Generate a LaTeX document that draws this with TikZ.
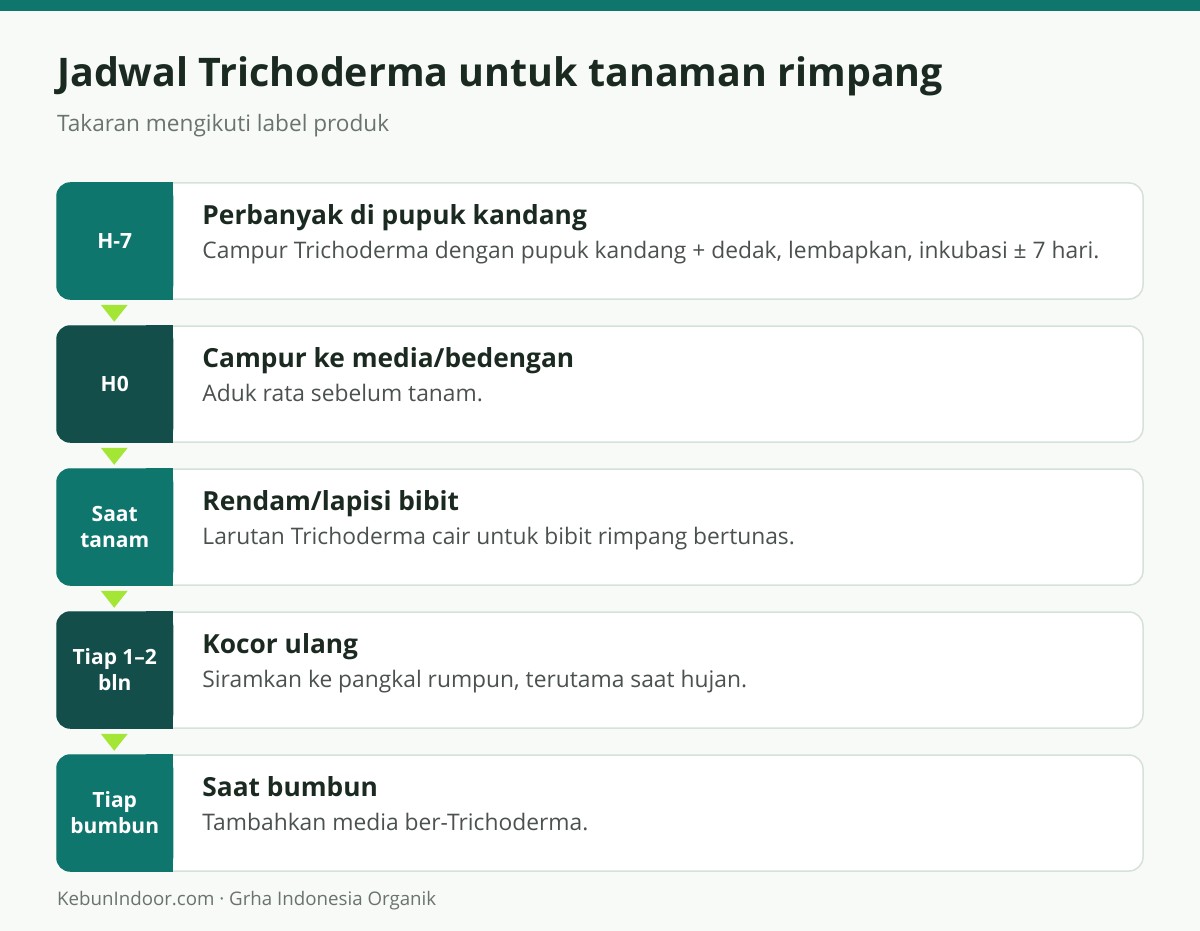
\documentclass[tikz,border=0pt]{standalone}
\usepackage{fontspec}
\setmainfont{Open Sans}
\usetikzlibrary{calc, positioning}

\definecolor{pagebg}{HTML}{F7FAF6}
\definecolor{tealA}{HTML}{0F766E}
\definecolor{tealB}{HTML}{134E4A}
\definecolor{limeA}{HTML}{A3E635}
\definecolor{cardline}{HTML}{D5E2DA}
\definecolor{inkdark}{HTML}{1B2A21}
\definecolor{inkgray}{HTML}{4B524E}
\definecolor{inksoft}{HTML}{6B736E}

\tikzset{
	card/.style={draw=cardline, line width=1.5pt, fill=white, rounded corners=14pt,
		minimum width=1086pt, minimum height=116pt, inner sep=0pt},
	badgetext/.style={text=white, font=\fontsize{21}{26}\selectfont\bfseries, align=center},
	steptitle/.style={anchor=base west, text=inkdark, font=\fontsize{26.3}{30}\selectfont\bfseries, inner sep=0pt},
	stepdesc/.style={anchor=base west, text=inkgray, font=\fontsize{22.8}{26}\selectfont, inner sep=0pt},
	marker/.style={fill=limeA}
}

\begin{document}
\begin{tikzpicture}[x=1pt, y=-1pt]
	\fill[pagebg] (0,0) rectangle (1200,931);
	\useasboundingbox (0,0) rectangle (1200,931);
	\fill[tealA] (0,0) rectangle (1200,11);

	% heading
	\node[anchor=base west, inner sep=0pt, text=inkdark, font=\fontsize{39.4}{42}\selectfont\bfseries] (title) at (57,87) {Jadwal Trichoderma untuk tanaman rimpang};
	\node[anchor=base west, inner sep=0pt, text=inksoft, font=\fontsize{22.6}{26}\selectfont] (subtitle) at (57,132) {Takaran mengikuti label produk};

	% cards
	\node[card] (c1) at (600,241) {};
	\node[card] (c2) at (600,384) {};
	\node[card] (c3) at (600,527) {};
	\node[card] (c4) at (600,670) {};
	\node[card] (c5) at (600,813) {};

	% badges
	\fill[tealA, rounded corners=14pt] (c1.north west) rectangle ($(c1.south west)+(117,0)$);
	\fill[tealA] ($(c1.north west)+(90,0)$) rectangle ($(c1.south west)+(117,0)$);
	\fill[tealB, rounded corners=14pt] (c2.north west) rectangle ($(c2.south west)+(117,0)$);
	\fill[tealB] ($(c2.north west)+(90,0)$) rectangle ($(c2.south west)+(117,0)$);
	\fill[tealA, rounded corners=14pt] (c3.north west) rectangle ($(c3.south west)+(117,0)$);
	\fill[tealA] ($(c3.north west)+(90,0)$) rectangle ($(c3.south west)+(117,0)$);
	\fill[tealB, rounded corners=14pt] (c4.north west) rectangle ($(c4.south west)+(117,0)$);
	\fill[tealB] ($(c4.north west)+(90,0)$) rectangle ($(c4.south west)+(117,0)$);
	\fill[tealA, rounded corners=14pt] (c5.north west) rectangle ($(c5.south west)+(117,0)$);
	\fill[tealA] ($(c5.north west)+(90,0)$) rectangle ($(c5.south west)+(117,0)$);

	\node[badgetext] (b1) at ($(c1.west)+(58.5,0)$) {H-7};
	\node[badgetext] (b2) at ($(c2.west)+(58.5,0)$) {H0};
	\node[badgetext] (b3) at ($(c3.west)+(58.5,0)$) {Saat\\tanam};
	\node[badgetext] (b4) at ($(c4.west)+(58.5,0)$) {Tiap 1–2\\bln};
	\node[badgetext] (b5) at ($(c5.west)+(58.5,0)$) {Tiap\\bumbun};

	% step texts
	\node[steptitle] (t1) at ($(c1.north west)+(146,42)$) {Perbanyak di pupuk kandang};
	\node[stepdesc] (d1) at ($(c1.north west)+(146,76)$) {Campur Trichoderma dengan pupuk kandang + dedak, lembapkan, inkubasi ± 7 hari.};
	\node[steptitle] (t2) at ($(c2.north west)+(146,42)$) {Campur ke media/bedengan};
	\node[stepdesc] (d2) at ($(c2.north west)+(146,76)$) {Aduk rata sebelum tanam.};
	\node[steptitle] (t3) at ($(c3.north west)+(146,42)$) {Rendam/lapisi bibit};
	\node[stepdesc] (d3) at ($(c3.north west)+(146,76)$) {Larutan Trichoderma cair untuk bibit rimpang bertunas.};
	\node[steptitle] (t4) at ($(c4.north west)+(146,42)$) {Kocor ulang};
	\node[stepdesc] (d4) at ($(c4.north west)+(146,76)$) {Siramkan ke pangkal rumpun, terutama saat hujan.};
	\node[steptitle] (t5) at ($(c5.north west)+(146,42)$) {Saat bumbun};
	\node[stepdesc] (d5) at ($(c5.north west)+(146,76)$) {Tambahkan media ber-Trichoderma.};

	% markers between cards
	\fill[marker] ($(c1.south west)+(44.5,5)$) -- ++(27,0) -- ++(-13.5,17) -- cycle;
	\fill[marker] ($(c2.south west)+(44.5,5)$) -- ++(27,0) -- ++(-13.5,17) -- cycle;
	\fill[marker] ($(c3.south west)+(44.5,5)$) -- ++(27,0) -- ++(-13.5,17) -- cycle;
	\fill[marker] ($(c4.south west)+(44.5,5)$) -- ++(27,0) -- ++(-13.5,17) -- cycle;

	\node[anchor=base west, inner sep=0pt, text=inksoft, font=\fontsize{18.7}{21}\selectfont] (footer) at (57,905) {KebunIndoor.com · Grha Indonesia Organik};
\end{tikzpicture}
\end{document}
